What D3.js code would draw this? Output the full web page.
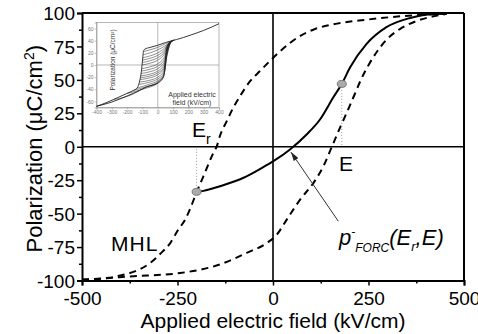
<!DOCTYPE html>
<html><head><meta charset="utf-8">
<script src="https://cdn.jsdelivr.net/npm/d3@7"></script>
<style>body{margin:0;background:#fff} svg{display:block} text{font-family:"Liberation Sans",Arial,sans-serif}</style>
</head><body><svg id="c" width="478" height="334"></svg>
<script>
// ---------- data ----------
const xTicks = [-500, -250, 0, 250, 500];
const xMinor = [-375, -125, 125, 375];
const yTicks = [-100, -75, -50, -25, 0, 25, 50, 75, 100];
const yMinor = [-87.5, -62.5, -37.5, -12.5, 12.5, 37.5, 62.5, 87.5];

// major hysteresis loop, descending (upper) branch  [E, P]
const mhlUpper = [[-500,-99.3],[-462,-99],[-430,-98],[-392,-95.7],[-360,-93],[-322,-87],[-295,-80],[-269,-72],
  [-248,-62],[-230,-54.5],[-215,-45],[-200,-34],[-182,-22],[-156,-4.5],[-147,0.4],[-139,8],[-121,19.2],
  [-104,29.2],[-86,37.9],[-60,49],[-34,56.6],[-3.5,65.4],[44,77.5],[75,83.5],[110,88],[157,91.5],
  [245,95],[332,97.5],[437,99.3],[455,99.5]];
// ascending (lower) branch
const mhlLower = [[-500,-99.5],[-374,-97],[-243,-94.4],[-139,-88],[-69,-79.4],[-16.5,-72],[10,-65.7],
  [36,-54.5],[71,-39.5],[106,-27],[132,-14.5],[154,0],[175,14],[200,30],[215,40],[230,50],[250,61],
  [272,71],[297,80],[332,88],[376,94],[420,97.5],[450,99]];
// first order reversal curve
const forc = [[-200,-33.7],[-182,-33],[-139,-29.5],[-77,-23.2],[-30,-16],[1,-10.8],[44.5,-2],[88,9.2],
  [123,20.4],[158,37],[180,47],[202,59.4],[245,76.9],[297,89.4],[359,96.3],[420,99.3],[455,99.5]];
const reversalPoint = [-200, -33.7];
const fieldPoint = [180, 47];
const arrowFrom = [171, -55.7], arrowTo = [47, -4];

// inset data
const insetXTicks = [-400,-300,-200,-100,0,100,200,300,400];
const insetYTicks = [-60,-40,-20,0,20,40,60];
const insetDesc = [[-400,-68],[-366,-65],[-290,-57],[-203,-47],[-160,-42],[-135,-38],[-124,-32],[-116,-24],
  [-110,-16],[-105,-6],[-101,4],[-97,14],[-94,22],[-85,26],[-50,29],[0,32.5],[50,37],[100,40.5],
  [124,42],[211,49],[300,57],[400,68]];
const insetAsc = [[-400,-68],[-300,-61],[-200,-51],[-120,-42],[-72,-36],[0,-30],[37,-20],[47,-8],[53,5],
  [60,20],[68,30],[80,35.5],[100,40.5]];
const insetForcs = [
  [[-94,22],[-50,25],[0,29],[50,35],[100,40.5]],
  [[-96,17],[-50,20],[0,25],[45,31],[80,37.5],[110,41.3]],
  [[-98,12],[-50,15],[0,20],[45,28],[75,36.5],[110,41.3]],
  [[-99,8],[-50,11],[0,16],[45,25],[70,35],[105,41]],
  [[-101,4],[-50,7],[0,12],[45,22],[68,34],[100,40.5]],
  [[-103,0],[-50,3],[0,8],[45,19],[66,33],[100,40.5]],
  [[-105,-6],[-50,-3],[0,2],[45,14],[64,31],[95,39.5]],
  [[-107,-10],[-50,-7],[0,-2],[45,10],[62,29],[90,38.5]],
  [[-109,-14],[-50,-11],[0,-6],[45,6],[61,27],[88,38]],
  [[-111,-18],[-50,-15],[0,-10],[43,1],[59,24],[85,37]],
  [[-113,-21],[-50,-18],[0,-13],[42,-3],[58,21],[85,37]],
  [[-116,-24],[-50,-21],[0,-16],[41,-6],[57,18],[83,36.5]],
  [[-119,-28],[-50,-25],[0,-20],[40,-10],[56,14],[82,36]],
  [[-124,-32],[-50,-28],[0,-23],[39,-14],[55,10],[81,36]],
  [[-135,-38],[-60,-32],[0,-26],[38,-17],[54,7],[80,35.5]],
  [[-160,-42],[-80,-36],[0,-28],[37,-19],[53,5]],
  [[-203,-47],[-100,-40],[0,-29.5],[37,-19.5]],
  [[-290,-57],[-180,-50],[-80,-37],[0,-30]]
];

// ---------- drawing ----------
const svg = d3.select("#c");
const x = d3.scaleLinear().domain([-500, 500]).range([82, 464]);
const y = d3.scaleLinear().domain([-100, 100]).range([280.5, 13]);
const line = d3.line().x(d => x(d[0])).y(d => y(d[1])).curve(d3.curveMonotoneX);
const fmt = d => String(d);

// ----- inset -----
const xi = d3.scaleLinear().domain([-400, 400]).range([96.5, 219]);
const yi = d3.scaleLinear().domain([-70, 70]).range([107.5, 22.5]);
const li = d3.line().x(d => xi(d[0])).y(d => yi(d[1])).curve(d3.curveMonotoneX);
const ins = svg.append("g");
ins.append("rect").attr("x", xi(-400)).attr("y", yi(70)).attr("width", xi(400) - xi(-400))
  .attr("height", yi(-70) - yi(70)).attr("fill", "#fff").attr("stroke", "#999").attr("stroke-width", 0.7);
ins.append("line").attr("x1", xi(0)).attr("x2", xi(0)).attr("y1", yi(70)).attr("y2", yi(-70))
  .attr("stroke", "#999").attr("stroke-width", 0.7);
ins.append("line").attr("x1", xi(-400)).attr("x2", xi(400)).attr("y1", yi(0)).attr("y2", yi(0))
  .attr("stroke", "#999").attr("stroke-width", 0.7);
const iax = ins.append("g").attr("transform", `translate(0,${yi(-70)})`)
  .call(d3.axisBottom(xi).tickValues(insetXTicks).tickSize(2).tickPadding(1).tickFormat(fmt));
const iay = ins.append("g").attr("transform", `translate(${xi(-400)},0)`)
  .call(d3.axisLeft(yi).tickValues(insetYTicks).tickSize(2).tickPadding(1).tickFormat(fmt));
[iax, iay].forEach(g => {
  g.select(".domain").attr("stroke", "#999").attr("stroke-width", 0.7);
  g.selectAll(".tick line").attr("stroke", "#999").attr("stroke-width", 0.6);
  g.selectAll(".tick text").attr("font-size", 5).attr("fill", "#777").attr("font-family", "Liberation Sans, Arial");
});
const ic = ins.append("g").attr("fill", "none").attr("stroke", "#222");
insetForcs.forEach(f => ic.append("path").attr("d", li(f)).attr("stroke-width", 0.5));
ic.append("path").attr("d", li(insetDesc)).attr("stroke-width", 0.9);
ic.append("path").attr("d", li(insetAsc)).attr("stroke-width", 0.9);
ins.append("text").attr("transform", `translate(115,60) rotate(-90)`).attr("text-anchor", "middle")
  .attr("font-size", 6.5).attr("fill", "#333").text("Polarization (μC/cm²)");
ins.append("text").attr("x", 192).attr("y", 97).attr("text-anchor", "middle")
  .attr("font-size", 7).attr("fill", "#333").text("Applied electric");
ins.append("text").attr("x", 192).attr("y", 105).attr("text-anchor", "middle")
  .attr("font-size", 7).attr("fill", "#333").text("field (kV/cm)");

// ----- main axes -----
const gx = svg.append("g").attr("transform", `translate(0,${y(-100)})`)
  .call(d3.axisBottom(x).tickValues(xTicks).tickSize(5).tickFormat(fmt));
svg.append("g").attr("transform", `translate(0,${y(-100)})`)
  .call(d3.axisBottom(x).tickValues(xMinor).tickSize(3).tickFormat(""))
  .call(g => g.select(".domain").remove());
const gy = svg.append("g").attr("transform", `translate(${x(-500)},0)`)
  .call(d3.axisLeft(y).tickValues(yTicks).tickSize(5).tickFormat(fmt));
svg.append("g").attr("transform", `translate(${x(-500)},0)`)
  .call(d3.axisLeft(y).tickValues(yMinor).tickSize(3).tickFormat(""))
  .call(g => g.select(".domain").remove());
svg.selectAll(".domain").filter(function(){ return !ins.node().contains(this); })
  .attr("stroke", "#000").attr("stroke-width", 2);
svg.selectAll(".tick line").filter(function(){ return !ins.node().contains(this); })
  .attr("stroke", "#000").attr("stroke-width", 1.5);
gx.selectAll(".tick text").attr("font-size", 19).attr("fill", "#000").attr("y", 24).attr("dy", 0)
  .attr("font-family", "Liberation Sans, Arial");
gy.selectAll(".tick text").attr("font-size", 19).attr("fill", "#000").attr("x", -7).attr("dy", "0.35em")
  .attr("font-family", "Liberation Sans, Arial");

// frame
svg.append("line").attr("x1", x(-500)).attr("x2", x(500)).attr("y1", y(100)).attr("y2", y(100))
  .attr("stroke", "#000").attr("stroke-width", 2);
svg.append("line").attr("x1", x(500)).attr("x2", x(500)).attr("y1", y(100)).attr("y2", y(-100))
  .attr("stroke", "#000").attr("stroke-width", 2);
// zero lines
svg.append("line").attr("x1", x(0)).attr("x2", x(0)).attr("y1", y(100)).attr("y2", y(-100))
  .attr("stroke", "#000").attr("stroke-width", 1.6);
svg.append("line").attr("x1", x(-500)).attr("x2", x(500)).attr("y1", y(0)).attr("y2", y(0))
  .attr("stroke", "#000").attr("stroke-width", 1.6);

// titles
svg.append("text").attr("x", (x(-500) + x(500)) / 2).attr("y", 328).attr("text-anchor", "middle")
  .attr("font-size", 21).text("Applied electric field (kV/cm)");
svg.append("text").attr("transform", `translate(42,${(y(100) + y(-100)) / 2 + 2}) rotate(-90)`)
  .attr("text-anchor", "middle").attr("font-size", 22)
  .html('Polarization (μC/cm<tspan dy="-8" font-size="14">2</tspan><tspan dy="8">)</tspan>');

// curves
svg.append("path").attr("d", line(mhlUpper)).attr("fill", "none").attr("stroke", "#000")
  .attr("stroke-width", 2).attr("stroke-dasharray", "7,5");
svg.append("path").attr("d", line(mhlLower)).attr("fill", "none").attr("stroke", "#000")
  .attr("stroke-width", 2).attr("stroke-dasharray", "7,5");
svg.append("path").attr("d", line(forc)).attr("fill", "none").attr("stroke", "#000").attr("stroke-width", 2);

// dotted guide lines
svg.append("line").attr("x1", x(reversalPoint[0])).attr("x2", x(reversalPoint[0]))
  .attr("y1", y(reversalPoint[1])).attr("y2", y(0)).attr("stroke", "#999").attr("stroke-width", 1)
  .attr("stroke-dasharray", "1,2");
svg.append("line").attr("x1", x(fieldPoint[0])).attr("x2", x(fieldPoint[0]))
  .attr("y1", y(fieldPoint[1])).attr("y2", y(0)).attr("stroke", "#999").attr("stroke-width", 1)
  .attr("stroke-dasharray", "1,2");
[reversalPoint, fieldPoint].forEach(p => svg.append("ellipse").attr("cx", x(p[0])).attr("cy", y(p[1]))
  .attr("rx", 4.5).attr("ry", 3.5).attr("fill", "#aaa").attr("stroke", "#777").attr("stroke-width", 1));

// arrow
svg.append("defs").append("marker").attr("id", "ah").attr("viewBox", "0 0 10 6").attr("refX", 10).attr("refY", 3)
  .attr("markerWidth", 9).attr("markerHeight", 5.4).attr("markerUnits", "userSpaceOnUse").attr("orient", "auto")
  .append("path").attr("d", "M0,0L10,3L0,6Z").attr("fill", "#222");
svg.append("line").attr("x1", x(arrowFrom[0])).attr("y1", y(arrowFrom[1])).attr("x2", x(arrowTo[0]))
  .attr("y2", y(arrowTo[1])).attr("stroke", "#333").attr("stroke-width", 1).attr("marker-end", "url(#ah)");

// annotations
svg.append("text").attr("x", 192).attr("y", 137).attr("font-size", 21)
  .html('E<tspan dy="7" font-size="14">r</tspan>');
svg.append("text").attr("x", 339).attr("y", 171).attr("font-size", 21).text("E");
svg.append("text").attr("x", 111).attr("y", 251).attr("font-size", 21).attr("letter-spacing", 1).text("MHL");
svg.append("text").attr("x", 339).attr("y", 245).attr("font-size", 22).attr("font-style", "italic")
  .html('p<tspan dy="-9" font-size="12">-</tspan><tspan dy="16" font-size="12">FORC</tspan>' +
        '<tspan dy="-7" font-size="22">(E</tspan><tspan dy="6" font-size="13">r</tspan>' +
        '<tspan dy="-6" font-size="22">,E)</tspan>');
</script></body></html>
